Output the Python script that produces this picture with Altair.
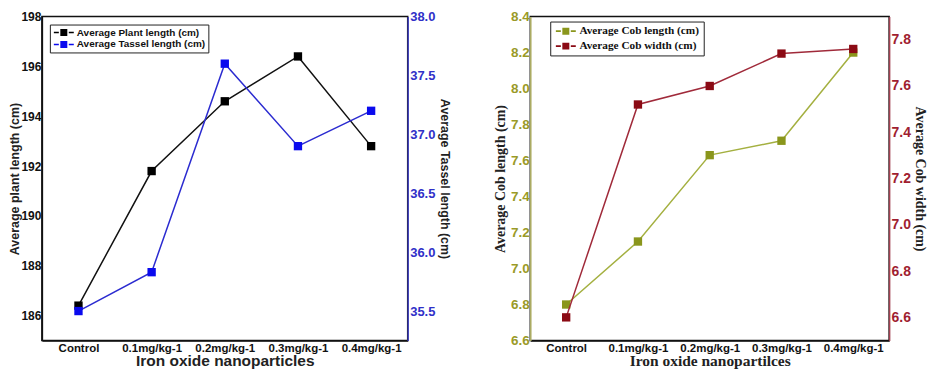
import altair as alt
import pandas as pd

categories = ["Control", "0.1mg/kg-1", "0.2mg/kg-1", "0.3mg/kg-1", "0.4mg/kg-1"]
plant_length = [186.4, 191.8, 194.6, 196.4, 192.8]
tassel_length = [35.5, 35.83, 37.6, 36.9, 37.2]
cob_length = [6.8, 7.15, 7.63, 7.71, 8.2]
cob_width = [6.6, 7.52, 7.6, 7.74, 7.76]

plant_ticks = [186, 188, 190, 192, 194, 196, 198]
tassel_ticks = [35.5, 36.0, 36.5, 37.0, 37.5, 38.0]
cob_len_ticks = [6.6, 6.8, 7.0, 7.2, 7.4, 7.6, 7.8, 8.0, 8.2, 8.4]
cob_wid_ticks = [6.6, 6.8, 7.0, 7.2, 7.4, 7.6, 7.8]

df1 = pd.DataFrame({"cat": categories, "plant": plant_length, "tassel": tassel_length})
df2 = pd.DataFrame({"cat": categories, "clen": cob_length, "cwid": cob_width})

SYMBOL = ("M-2,-0.16H-1V0.16H-2Z "
          "M-0.7,-0.7H0.7V0.7H-0.7Z "
          "M1,-0.16H2V0.16H1Z")

SANS = "Liberation Sans"
SERIF = "Liberation Serif"


def panel(df, f1, f2, n1, n2, c1, c2, line1, line2, dom1, dom2, t1, t2,
          fmt1, fmt2, title1, title2, xtitle, xfont, tfont, lcol1, lcol2,
          dcol1, dcol2, tcol2, legx, legy, legfont, legsize, legrow, legpad,
          w, h, lsize1, lsize2, tsize1, tsize2, tpad1, tpad2):
    x = alt.X("cat:N", sort=categories,
              scale=alt.Scale(type="point", padding=0.5),
              axis=alt.Axis(title=xtitle, labelAngle=0, labelFont=SANS,
                            labelFontWeight="bold", labelFontSize=11.5,
                            labelColor="#111", titleFont=xfont,
                            titleFontWeight="bold", titleFontSize=15.5,
                            titleColor="#222", domainColor="#111",
                            domainWidth=1.5, ticks=False, labelPadding=2,
                            titlePadding=0))
    cscale = alt.Scale(domain=[n1, n2], range=[c1, c2])
    legend = alt.Legend(title=None, orient="none", legendX=legx, legendY=legy,
                        symbolType=SYMBOL, symbolSize=100, symbolOffset=6,
                        strokeColor="#222", fillColor="white", padding=legpad,
                        labelFont=legfont, labelFontWeight="bold",
                        labelFontSize=legsize, labelColor="#111",
                        rowPadding=legrow, symbolStrokeWidth=0, labelOffset=8)
    y1 = alt.Y(f"{f1}:Q", scale=alt.Scale(domain=dom1, nice=False, zero=False),
               axis=alt.Axis(orient="left", values=t1, format=fmt1,
                             title=title1, titleFont=tfont,
                             titleFontWeight="bold", titleFontSize=tsize1,
                             titleColor="#222", labelFont=SANS,
                             labelFontWeight="bold", labelFontSize=lsize1,
                             labelColor=lcol1, domainColor=dcol1,
                             domainWidth=1.5, ticks=False, grid=False,
                             labelPadding=1, titlePadding=tpad1))
    y2 = alt.Y(f"{f2}:Q", scale=alt.Scale(domain=dom2, nice=False, zero=False),
               axis=alt.Axis(orient="right", values=t2, format=fmt2,
                             title=title2, titleFont=tfont,
                             titleFontWeight="bold", titleFontSize=tsize2,
                             titleColor=tcol2, labelFont=SANS,
                             labelFontWeight="bold", labelFontSize=lsize2,
                             labelColor=lcol2, domainColor=dcol2,
                             domainWidth=1.5, ticks=False, grid=False,
                             labelPadding=2, titlePadding=tpad2))
    base = alt.Chart(df).encode(x=x)
    l1 = base.mark_line(color=line1, strokeWidth=1.5).encode(y=y1)
    p1 = base.mark_point(shape="square", size=70, filled=True, opacity=1).encode(
        y=y1, color=alt.Color("s:N", scale=cscale, legend=legend)
    ).transform_calculate(s=f"'{n1}'")
    l2 = base.mark_line(color=line2, strokeWidth=1.5).encode(y=y2)
    p2 = base.mark_point(shape="square", size=70, filled=True, opacity=1).encode(
        y=y2, color=alt.Color("s:N", scale=cscale, legend=legend)
    ).transform_calculate(s=f"'{n2}'")
    left = alt.layer(l1, p1)
    right = alt.layer(l2, p2)
    return alt.layer(left, right).resolve_scale(y="independent").properties(
        width=w, height=h)


left_panel = panel(
    df1, "plant", "tassel",
    "Average Plant length (cm)", "Average Tassel length (cm)",
    "#000000", "#0a0aee", "#111111", "#2b2bd0",
    [185, 198], [35.25, 38.0], plant_ticks, tassel_ticks, "d", ".1f",
    "Average plant length (cm)", "Average Tassel length (cm)",
    "Iron oxide nanoparticles", SANS, SANS,
    "#111111", "#3030c8", "#111111", "#4040c0", "#222222",
    8, 8, SANS, 10, 2, 3, 367, 325,
    12, 13, 12.5, 12.5, -1, 3)

right_panel = panel(
    df2, "clen", "cwid",
    "Average Cob length (cm)", "Average Cob width (cm)",
    "#8a961c", "#8b0a14", "#a4b040", "#a02a3a",
    [6.6, 8.4], [6.5, 7.9], cob_len_ticks, cob_wid_ticks, ".1f", ".1f",
    "Average Cob length (cm)", "Average Cob width (cm)",
    "Iron oxide nanopartilces", SERIF, SERIF,
    "#9a9a28", "#a01e30", "#b4b468", "#a04050", "#222222",
    20, 5, SERIF, 11.3, 3, 4, 360, 325,
    13.5, 14, 14, 14, 3, 2)

chart = alt.hconcat(left_panel, right_panel, spacing=40).resolve_scale(
    color="independent").resolve_legend(color="independent").configure(
    padding=0).configure_view(stroke="#111", strokeWidth=1.5)

chart.save("out.html", embed_options={"renderer": "svg", "actions": False})
